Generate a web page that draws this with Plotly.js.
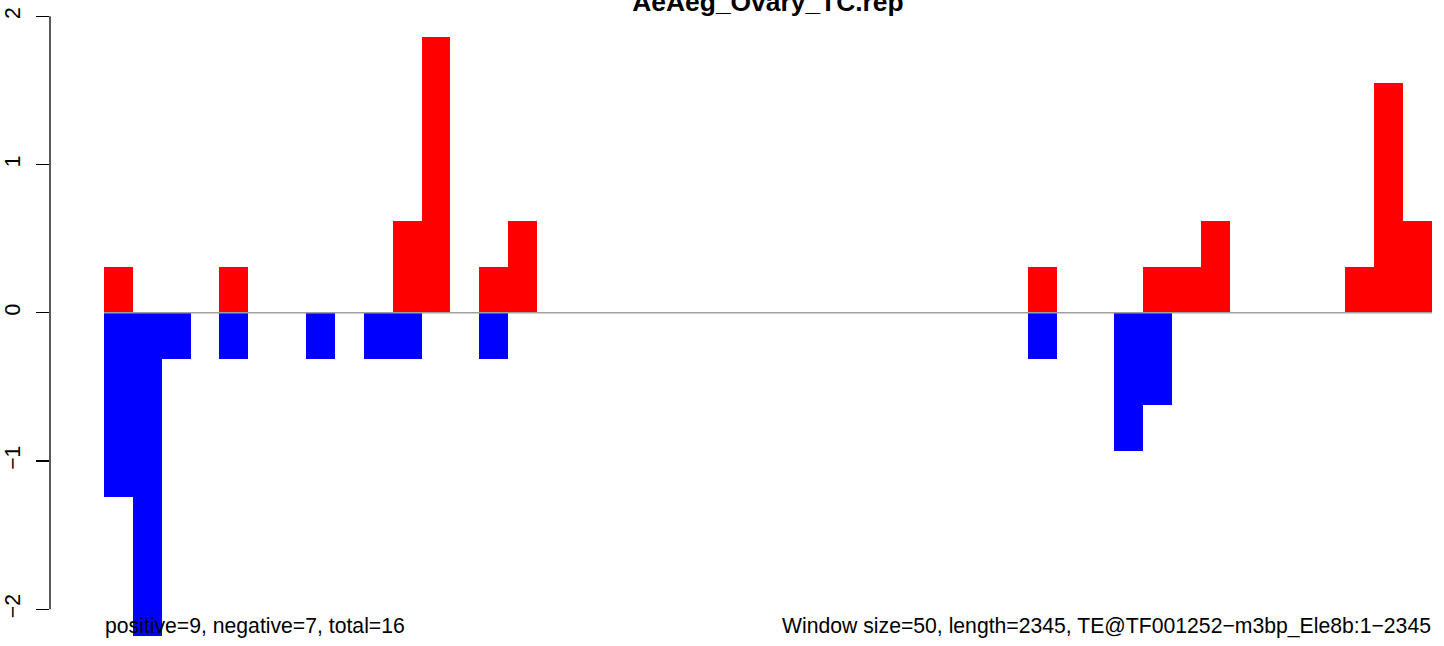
<!DOCTYPE html>
<html>
<head>
<meta charset="utf-8">
<script src="https://cdn.plot.ly/plotly-3.0.1.min.js"></script>
<style>html,body{margin:0;padding:0;background:#fff;}#chart{width:1444px;height:646px;}</style>
</head>
<body>
<div id="chart"></div>
<script>
// Window start positions (bp), window size 50
const windowStart = [0,50,100,150,200,250,300,350,400,450,500,550,600,650,700,750,800,850,900,950,
  1000,1050,1100,1150,1200,1250,1300,1350,1400,1450,1500,1550,1600,1650,1700,1750,1800,1850,1900,1950,
  2000,2050,2100,2150,2200,2250];
// Positive-strand values per window (red)
const positiveValues = [0.31,0,0,0,0.31,0,0,0,0,0,0.62,1.86,0,0.31,0.62,0,0,0,0,0,
  0,0,0,0,0,0,0,0,0,0,0,0,0.31,0,0,0,0.31,0.31,0.62,0,
  0,0,0,0.31,1.55,0.62];
// Negative-strand values per window (blue)
const negativeValues = [-1.24,-2.18,-0.31,0,-0.31,0,0,-0.31,0,-0.31,-0.31,0,0,-0.31,0,0,0,0,0,0,
  0,0,0,0,0,0,0,0,0,0,0,0,-0.31,0,0,-0.93,-0.62,0,0,0,
  0,0,0,0,0,0];
const yTickVals = [-2,-1,0,1,2];
const yTickText = ['\u22122','\u22121','0','1','2'];
const windowSize = 50;
const seqLength = 2345;
const titleText = 'AeAeg_Ovary_TC.rep';
const leftNote = 'positive=9, negative=7, total=16';
const rightNote = 'Window size=50, length=2345, TE@TF001252\u2212m3bp_Ele8b:1\u22122345';

const centers = windowStart.map(s => s + windowSize / 2);
const FONT = 'Liberation Sans, Arial, Helvetica, sans-serif';
const FS = 21.2;

const traces = [
  {type:'bar', x: centers, y: positiveValues, width: windowSize, base: 0,
   marker:{color:'#FF0000', line:{width:0}}, hoverinfo:'skip'},
  {type:'bar', x: centers, y: negativeValues, width: windowSize, base: 0,
   marker:{color:'#0000FF', line:{width:0}}, hoverinfo:'skip'}
];

const layout = {
  width: 1444, height: 646,
  margin: {l: 50, r: 12, t: 0, b: 0},
  paper_bgcolor: '#ffffff', plot_bgcolor: '#ffffff',
  showlegend: false,
  barmode: 'overlay', bargap: 0,
  font: {family: FONT, color: '#000', size: FS},
  title: {text: titleText, xref: 'container', x: 768/1444, xanchor: 'center',
          yref: 'container', y: 1 - 2/646, yanchor: 'middle',
          font: {family: FONT, size: 26.4, weight: 'bold', color: '#000'}},
  xaxis: {visible: false, range: [-93.5, 2300], fixedrange: true},
  yaxis: {range: [-2.248, 2.109], tickvals: yTickVals, ticktext: yTickText,
          ticks: 'outside', ticklen: 13, tickwidth: 1.3, tickcolor: '#000',
          showgrid: false, zeroline: false, showline: false, automargin: false,
          tickangle: -90, ticklabelstandoff: 8,
          tickfont: {family: FONT, size: FS, color: '#000'}},
  shapes: [
    {type:'line', xref:'paper', yref:'y', x0:0, x1:0, y0:-2, y1:2,
     line:{color:'#000', width:1.3}},
    {type:'line', xref:'x', yref:'y', x0:0, x1:2300, y0:0, y1:0,
     line:{color:'#A0A0A0', width:1.5}, layer:'above'}
  ],
  annotations: [
    {text: leftNote, xref:'x', x: 0, xanchor:'left', yref:'paper', y:(646-625.5)/646, yanchor:'middle',
     showarrow:false, font:{family: FONT, size: FS, color:'#000'}, borderpad:0},
    {text: rightNote, xref:'x', x: 2300, xanchor:'right', yref:'paper', y:(646-625.5)/646, yanchor:'middle',
     showarrow:false, font:{family: FONT, size: FS, color:'#000'}, borderpad:0}
  ]
};

Plotly.newPlot('chart', traces, layout, {displayModeBar:false, staticPlot:true});
</script>
</body>
</html>
